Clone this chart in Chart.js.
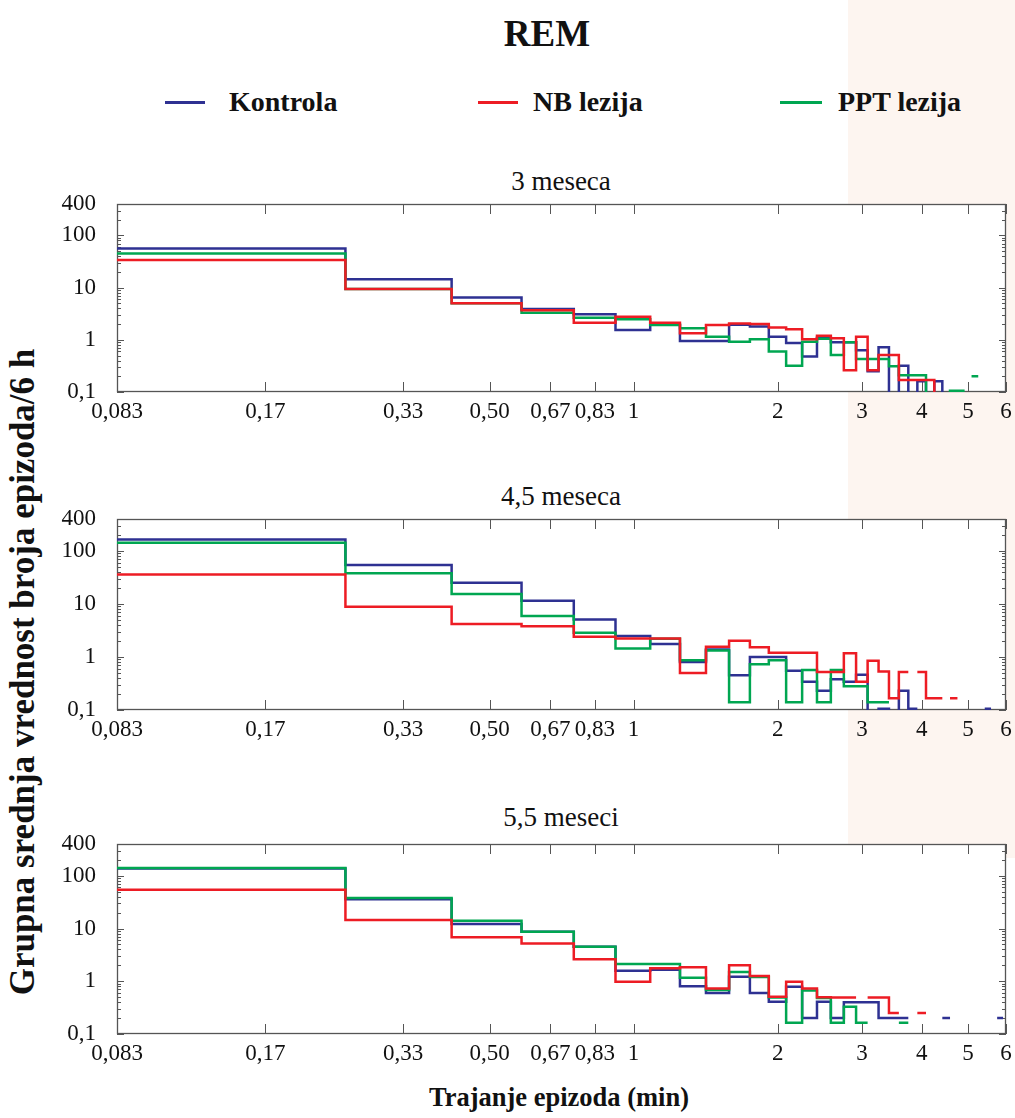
<!DOCTYPE html>
<html><head><meta charset="utf-8">
<script src="https://cdn.jsdelivr.net/npm/chart.js@4/dist/chart.umd.min.js"></script>
<style>
html,body{margin:0;padding:0;background:#fff;}
body{width:1015px;height:1118px;position:relative;overflow:hidden;font-family:"Liberation Serif","Times New Roman",serif;color:#111;}
.t{position:absolute;white-space:nowrap;line-height:1;}
.ln{position:absolute;height:3px;}
canvas{position:absolute;left:0;}
</style></head><body>
<div style="position:absolute;left:848px;top:0;width:167px;height:858px;background:#fdf5f0;"></div>
<div class="t" style="left:0;width:1094px;text-align:center;top:15px;font-size:37px;font-weight:bold;">REM</div>

<div class="ln" style="left:165px;top:101px;width:40px;background:#2e3192;"></div>
<div class="t" style="left:229px;top:88px;font-size:28px;font-weight:bold;">Kontrola</div>
<div class="ln" style="left:478px;top:101px;width:40px;background:#ed1c24;"></div>
<div class="t" style="left:533px;top:88px;font-size:28px;font-weight:bold;">NB lezija</div>
<div class="ln" style="left:780px;top:101px;width:42px;background:#00a651;"></div>
<div class="t" style="left:838px;top:88px;font-size:28px;font-weight:bold;">PPT lezija</div>

<div class="t" style="left:0;width:1122px;text-align:center;top:168px;font-size:27px;">3 meseca</div>
<div class="t" style="left:0;width:1122px;text-align:center;top:483px;font-size:27px;">4,5 meseca</div>
<div class="t" style="left:0;width:1122px;text-align:center;top:804px;font-size:27px;">5,5 meseci</div>

<div class="t" style="left:22px;top:672px;font-size:35px;font-weight:bold;transform:translate(-50%,-50%) rotate(-90deg);">Grupna srednja vrednost broja epizoda/6 h</div>
<div class="t" style="left:0;width:1118px;text-align:center;top:1084px;font-size:26.5px;font-weight:bold;">Trajanje epizoda (min)</div>

<canvas id="c1" width="1015" height="242" style="top:190px"></canvas>
<canvas id="c2" width="1015" height="245" style="top:505px"></canvas>
<canvas id="c3" width="1015" height="244" style="top:830px"></canvas>

<script>
// ---- bin edges (min): 10-second bins starting at 5 s ----
const binEdges = [0.0833,0.25,0.4167,0.5833,0.75,0.9167,1.0833,1.25,1.4167,1.5833,1.75,1.9167,2.0833,2.25,2.4167,2.5833,2.75,2.9167,3.0833,3.25,3.4167,3.5833,3.75,3.9167,4.0833,4.25,4.4167,4.5833,4.75,4.9167,5.0833,5.25,5.4167,5.5833,5.75,5.9167,6.0833];

const xTickValues = [0.0833,0.17,0.33,0.5,0.67,0.83,1,2,3,4,5,6];
const xTickLabels = ["0,083","0,17","0,33","0,50","0,67","0,83","1","2","3","4","5","6"];
const yTickValues = [0.1,1,10,100,400];
const yTickLabels = ["0,1","1","10","100","400"];

const seriesNames = ["Kontrola","NB lezija","PPT lezija"];
const seriesColors = ["#2e3192","#ed1c24","#00a651"];

// values per bin (null = no episodes; 0.05 = below the axis floor)
// ---- 3 meseca ----
const kontrola3 = [56,14.4,6.5,3.9,3.1,1.54,1.95,0.95,0.95,1.95,1.8,1.15,0.87,0.48,1.1,0.9,0.9,0.63,0.25,0.72,0.05,0.32,0.05,0.16,0.05,0.16,0.05,null,null,null,null,null,null,null,null,null];
const nb3       = [34,9.4,5.0,3.7,2.13,2.77,2.13,1.33,1.92,2.05,2.0,1.72,1.59,1.02,1.2,1.07,0.26,1.15,0.26,0.51,0.51,0.17,0.17,0.17,0.17,0.05,null,null,null,null,null,null,null,null,null,null];
const ppt3      = [45,9.4,5.0,3.3,2.65,2.47,1.92,1.66,1.15,0.92,1.02,0.6,0.32,0.92,1.05,0.51,0.9,0.43,0.43,0.43,0.31,0.21,0.21,0.21,0.05,0.05,0.05,0.106,0.106,null,0.2,null,null,null,null,null];
// ---- 4,5 meseca ----
const kontrola45 = [165,54,25,11.5,5.1,2.48,1.75,0.8,1.39,0.45,1.0,1.0,0.55,0.34,0.23,0.38,0.34,0.46,0.05,0.106,0.05,0.23,0.106,null,null,null,null,null,null,null,null,null,0.106,null,null,null];
const nb45       = [36,8.9,4.2,3.8,2.4,2.24,2.24,0.5,1.56,2.02,1.53,1.2,1.2,1.2,0.52,0.52,1.17,0.34,0.85,0.53,0.166,0.52,null,0.52,0.166,0.166,null,0.166,null,null,null,null,null,null,null,null];
const ppt45      = [143,38,15.4,5.9,2.86,1.45,2.2,0.87,1.33,0.14,0.73,0.87,0.14,0.57,0.14,0.57,0.28,0.28,0.14,0.14,null,null,null,null,null,null,null,null,null,null,null,null,null,null,null,null];
// ---- 5,5 meseci ----
const kontrola55 = [138,36,12.2,8.7,4.5,1.59,1.65,0.8,0.6,1.22,0.6,0.41,0.79,0.2,0.41,0.2,0.4,0.4,0.4,0.2,0.2,0.2,null,null,null,null,0.2,null,null,null,null,null,null,null,0.2,null];
const nb55       = [54,14.5,6.8,5.2,2.6,0.98,1.76,1.85,0.73,2.0,1.26,0.51,0.98,0.73,0.5,0.49,0.49,null,0.49,0.49,0.25,null,null,0.25,null,null,null,null,null,null,null,null,null,null,null,null];
const ppt55      = [140,38,14,8.7,4.5,2.12,2.12,1.17,0.68,1.5,1.2,0.49,0.164,0.67,0.48,0.164,0.33,0.164,null,null,null,0.164,null,null,null,null,null,null,null,null,null,null,null,null,null,null];

function stepPoints(vals){
  const pts=[];
  for(let k=0;k<vals.length;k++){
    const v=vals[k];
    if(v===null){ pts.push({x:binEdges[k],y:null}); }
    else { pts.push({x:binEdges[k],y:v}); pts.push({x:binEdges[k+1],y:v}); }
  }
  return pts;
}

const framePlugin = {
  id:'frame',
  beforeDraw(chart){
    const {ctx, chartArea:a}=chart;
    ctx.save(); ctx.fillStyle='#fff';
    ctx.fillRect(a.left,a.top,a.right-a.left,a.bottom-a.top); ctx.restore();
  },
  beforeDatasetsDraw(chart){
    const {ctx, chartArea:a, scales:{x,y}}=chart;
    ctx.save();
    ctx.strokeStyle='#555'; ctx.lineWidth=1.3;
    ctx.strokeRect(a.left+0.5,a.top+0.5,a.right-a.left-1,a.bottom-a.top-1);
    ctx.beginPath();
    xTickValues.forEach(v=>{
      const px=Math.round(x.getPixelForValue(v))+0.5;
      ctx.moveTo(px,a.bottom); ctx.lineTo(px,a.bottom-10);
      ctx.moveTo(px,a.top); ctx.lineTo(px,a.top+10);
    });
    for(let e=-1;e<=2;e++){
      for(let m=1;m<=9;m++){
        const v=m*Math.pow(10,e);
        if(v<0.1||v>400) continue;
        const py=Math.round(y.getPixelForValue(v))+0.5;
        const len=(m===1)?7:4;
        ctx.moveTo(a.left,py); ctx.lineTo(a.left+len,py);
        ctx.moveTo(a.right,py); ctx.lineTo(a.right-len,py);
      }
    }
    ctx.lineWidth=1; ctx.stroke();
    ctx.restore();
  }
};

function makeChart(id, arrs){
  const datasets = arrs.map((vals,i)=>({
    label: seriesNames[i],
    data: stepPoints(vals),
    borderColor: seriesColors[i],
    borderWidth: 2.5,
    pointRadius: 0,
    fill: false,
    tension: 0,
    spanGaps: false,
    order: [2,0,1][i]
  }));
  new Chart(document.getElementById(id), {
    type:'line',
    data:{datasets},
    plugins:[framePlugin],
    options:{
      responsive:false, animation:false, devicePixelRatio:1,
      layout:{padding:{left:0,right:9,top:14,bottom:0}},
      plugins:{legend:{display:false},tooltip:{enabled:false}},
      scales:{
        x:{type:'logarithmic',min:0.0833,max:6,
           grid:{display:false,drawTicks:false},border:{display:false},
           afterBuildTicks:s=>{s.ticks=xTickValues.map(v=>({value:v}));},
           afterFit:s=>{s.height=40;s.paddingLeft=0;s.paddingRight=0;},
           ticks:{autoSkip:false,maxRotation:0,padding:6,color:'#111',
             font:{family:'"Liberation Serif", serif',size:23},
             callback:(v,i)=>xTickLabels[i]}},
        y:{type:'logarithmic',min:0.1,max:400,
           grid:{display:false,drawTicks:false},border:{display:false},
           afterBuildTicks:s=>{s.ticks=yTickValues.map(v=>({value:v}));},
           afterFit:s=>{s.width=117;s.paddingTop=0;s.paddingBottom=0;},
           ticks:{autoSkip:false,padding:21,color:'#111',
             font:{family:'"Liberation Serif", serif',size:23},
             callback:(v,i)=>yTickLabels[i]}}
      }
    }
  });
}

makeChart('c1',[kontrola3,nb3,ppt3]);
makeChart('c2',[kontrola45,nb45,ppt45]);
makeChart('c3',[kontrola55,nb55,ppt55]);
</script>
</body></html>
